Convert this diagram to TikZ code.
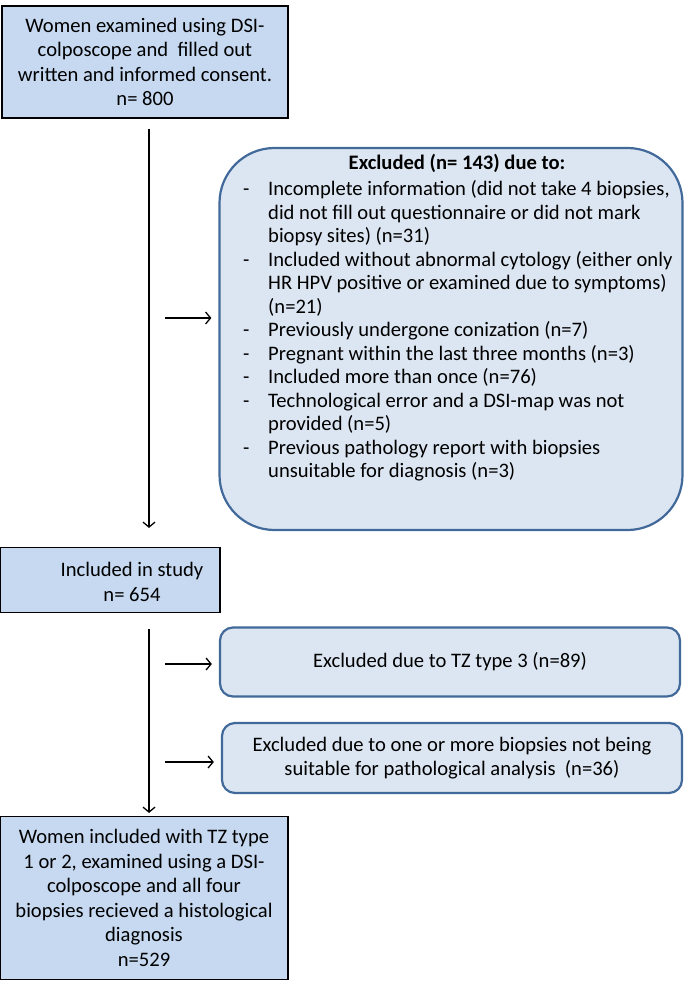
\documentclass[tikz,border=0pt]{standalone}
\usepackage{fontspec}
\setmainfont{Carlito}
\usetikzlibrary{arrows.meta}
\definecolor{flowblue}{HTML}{C6D9F1}
\definecolor{exclfill}{HTML}{DCE6F2}
\definecolor{excledge}{HTML}{41699A}
\newcommand{\flowfont}{\fontsize{20.6}{24.5}\selectfont}
\begin{document}
\begin{tikzpicture}[x=1pt,y=-1pt,
    flowbox/.style={draw=black, fill=flowblue, line width=1.1pt, align=center, inner sep=0pt, font=\flowfont},
    exclbox/.style={draw=excledge, fill=exclfill, line width=2.2pt, rounded corners=13pt, align=center, inner sep=0pt, font=\flowfont},
    flow/.style={black, line width=1.3pt, -{Straight Barb[length=5pt,width=12pt]}}]
    \useasboundingbox (0,0) rectangle (685,981);

    \node[flowbox, minimum width=286pt, minimum height=112pt] (women) at (145,62)
        {Women examined using DSI-\\colposcope and\ \ filled out\\written and informed consent.\\n= 800};
    \node[exclbox, rounded corners=55pt, minimum width=463pt, minimum height=382pt] (excl) at (451,339) {};
    \node[font=\flowfont\bfseries, inner sep=0pt] (exhead) at (457,163) {Excluded (n= 143) due to:};
    \node[anchor=base west, inner sep=0pt, font=\fontsize{20.6}{23.5}\selectfont] (exlist) at (243,196)
        {\begin{tabular}[t]{@{}p{25pt}@{}l@{}}
        - & Incomplete information (did not take 4 biopsies,\\
          & did not fill out questionnaire or did not mark\\
          & biopsy sites) (n=31)\\
        - & Included without abnormal cytology (either only\\
          & HR HPV positive or examined due to symptoms)\\
          & (n=21)\\
        - & Previously undergone conization (n=7)\\
        - & Pregnant within the last three months (n=3)\\
        - & Included more than once (n=76)\\
        - & Technological error and a DSI-map was not\\
          & provided (n=5)\\
        - & Previous pathology report with biopsies\\
          & unsuitable for diagnosis (n=3)
        \end{tabular}};

    \node[flowbox, minimum width=220pt, minimum height=65pt] (study) at (110,580) {};
    \node[align=center, inner sep=0pt, font=\flowfont] (studytext) at (132,582) {Included in study\\n= 654};
    \node[exclbox, minimum width=460pt, minimum height=69pt] (tztype) at (450,662)
        {Excluded due to TZ type 3 (n=89)};
    \node[exclbox, minimum width=460pt, minimum height=70pt] (biopsy) at (452,758)
        {Excluded due to one or more biopsies not being\\suitable for pathological analysis\ \ (n=36)};
    \node[flowbox, minimum width=288pt, minimum height=163pt] (final) at (144,898)
        {Women included with TZ type\\1 or 2, examined using a DSI-\\colposcope and all four\\biopsies recieved a histological\\diagnosis\\n=529};

    \coordinate (spine) at (149,0);
    \draw[flow, shorten <=10pt, shorten >=19pt] (women.south -| spine) -- (study.north -| spine);
    \draw[flow, shorten <=16pt, shorten >=3pt] (study.south -| spine) -- (final.north -| spine);

    \coordinate (armA) at (165,318);
    \coordinate (armB) at (165,664);
    \coordinate (armC) at (165,762);
    \draw[flow, shorten >=7pt] (armA) -- (armA -| excl.west);
    \draw[flow, shorten >=7pt] (armB) -- (armB -| tztype.west);
    \draw[flow, shorten >=7pt] (armC) -- (armC -| biopsy.west);
\end{tikzpicture}
\end{document}
